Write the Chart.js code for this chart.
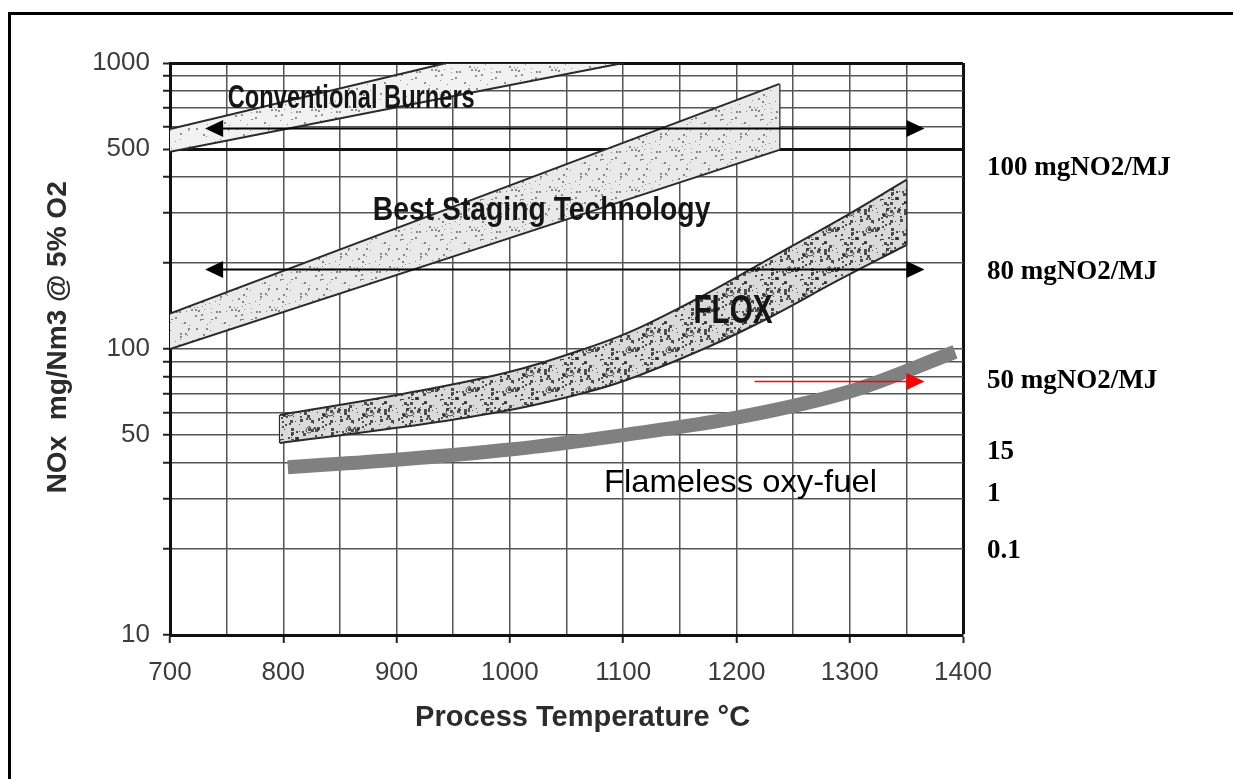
<!DOCTYPE html>
<html>
<head>
<meta charset="utf-8">
<title>NOx vs process temperature</title>
<script src="https://cdn.jsdelivr.net/npm/chart.js@4.4.0/dist/chart.umd.min.js"></script>
<style>
    html, body { margin: 0; padding: 0; background: #fff; }
    #wrap { width: 1233px; height: 779px; overflow: hidden; }
</style>
</head>
<body>
<div id="wrap"><canvas id="noxChart" width="1233" height="779"></canvas></div>
<script>
// Axis ticks
const xGridTemps = [700, 750, 800, 850, 900, 950, 1000, 1050, 1100, 1150, 1200, 1250, 1300, 1350, 1400];
const xLabelTemps = [700, 800, 900, 1000, 1100, 1200, 1300, 1400];
const yGridValues = [10, 20, 30, 40, 50, 60, 70, 80, 90, 100, 200, 300, 400, 500, 600, 700, 800, 900, 1000];
const yLabelValues = [10, 50, 100, 500, 1000];

// Conventional burners band (edges)
const convTemps = [700, 944, 1100];
const convLow = [489, 757, 1000];
const convHigh = [588, 1000, 1000];

// Best staging technology band
const stagingTemps = [700, 1238];
const stagingLow = [100, 497];
const stagingHigh = [133, 845];

// FLOX band
const floxTemps = [797, 900, 1000, 1075, 1115, 1175, 1230, 1290, 1350];
const floxLow = [46.9, 53.0, 61.2, 71.9, 81.1, 101.6, 129.4, 174, 231];
const floxHigh = [58.8, 69.0, 83.2, 103, 119, 157, 208, 282, 390];

// Flameless oxy-fuel curve
const oxyTemps = [804, 900, 1000, 1100, 1200, 1300, 1393];
const oxyValues = [38.6, 41, 44.5, 50, 57.5, 71, 97.7];

// Arrows
const blackArrowLevels = [594, 190];
const blackArrowTemps = [731, 1366];
const redArrowLevel = 77.3;
const redArrowTemps = [1216, 1366];

// Text in the plot
const bandLabels = ['Conventional Burners', 'Best Staging Technology', 'FLOX', 'Flameless oxy-fuel'];
const bandLabelStart = [751, 879, 1162, 1083];
const bandLabelEnd = [969, 1177, 1232, 1324];
const bandLabelLevel = [748, 304, 135, 34];

// Text to the right of the plot
const sideLabels = ['100 mgNO2/MJ', '80 mgNO2/MJ', '50 mgNO2/MJ', '15', '1', '0.1'];
const sideLevels = [430, 186, 77, 43.6, 31.1, 19.7];

Chart.defaults.font.family = '"Liberation Sans", Arial, sans-serif';

function pts(xs, ys) {
    return xs.map((x, i) => ({ x: x, y: ys[i] }));
}

// speckled fill like the scanned bands
function speckle(base, count, dark, big) {
    const c = document.createElement('canvas');
    c.width = c.height = 40;
    const g = c.getContext('2d');
    g.fillStyle = base;
    g.fillRect(0, 0, 40, 40);
    for (let i = 0; i < count; i++) {
        const x = (i * 23 + (i * i) % 17) % 40;
        const y = (i * 41 + (i * i * i) % 29) % 40;
        g.fillStyle = dark;
        const s = big ? 1 + (i % 3) : 1 + (i % 2);
        g.fillRect(x, y, s, s);
    }
    if (big) {
        g.strokeStyle = dark;
        g.lineWidth = 1;
        g.beginPath(); g.arc(10, 12, 4, 0, Math.PI * 1.6); g.stroke();
        g.beginPath(); g.arc(29, 30, 3, 0.5, Math.PI * 1.8); g.stroke();
    }
    return g.createPattern(c, 'repeat');
}

const convFill = speckle('#f1f1f1', 30, 'rgba(80,80,80,0.6)', false);
const stagingFill = speckle('#e9e9e9', 45, 'rgba(70,70,70,0.6)', false);
const floxFill = speckle('#dadada', 80, 'rgba(45,45,45,0.8)', true);

const edge = { borderColor: '#2a2a2a', borderWidth: 2, pointRadius: 0, showLine: true, fill: false, order: 3 };

const datasets = [
    {
        label: 'Flameless oxy-fuel', data: pts(oxyTemps, oxyValues),
        borderColor: '#808080', borderWidth: 14, borderCapStyle: 'butt',
        tension: 0.4, cubicInterpolationMode: 'monotone',
        pointRadius: 0, showLine: true, fill: false, order: 0
    },
    Object.assign({ label: 'conv low', data: pts(convTemps, convLow) }, edge),
    Object.assign({}, edge, { label: 'conv high', data: pts(convTemps, convHigh), fill: '-1', backgroundColor: convFill }),
    Object.assign({ label: 'staging low', data: pts(stagingTemps, stagingLow) }, edge),
    Object.assign({}, edge, { label: 'staging high', data: pts(stagingTemps, stagingHigh), fill: '-1', backgroundColor: stagingFill }),
    Object.assign({}, edge, { label: 'staging end', data: [
        { x: stagingTemps[stagingTemps.length - 1], y: stagingLow[stagingLow.length - 1] },
        { x: stagingTemps[stagingTemps.length - 1], y: stagingHigh[stagingHigh.length - 1] }] }),
    Object.assign({}, edge, { label: 'flox low', data: pts(floxTemps, floxLow), tension: 0.4 }),
    Object.assign({}, edge, { label: 'flox high', data: pts(floxTemps, floxHigh), tension: 0.4, fill: '-1', backgroundColor: floxFill }),
    Object.assign({}, edge, { label: 'flox start', data: [
        { x: floxTemps[0], y: floxLow[0] }, { x: floxTemps[0], y: floxHigh[0] }] }),
    Object.assign({}, edge, { label: 'flox end', data: [
        { x: floxTemps[floxTemps.length - 1], y: floxLow[floxLow.length - 1] },
        { x: floxTemps[floxTemps.length - 1], y: floxHigh[floxHigh.length - 1] }] })
];

function arrowHead(ctx, x, y, dir, color) {
    ctx.fillStyle = color;
    ctx.beginPath();
    ctx.moveTo(x, y);
    ctx.lineTo(x - dir * 18, y - 8.5);
    ctx.lineTo(x - dir * 18, y + 8.5);
    ctx.closePath();
    ctx.fill();
}

function fitText(ctx, text, x1, x2, y) {
    const w = ctx.measureText(text).width;
    ctx.save();
    ctx.translate(x1, y);
    ctx.scale((x2 - x1) / w, 1);
    ctx.fillText(text, 0, 0);
    ctx.restore();
}

const annotations = {
    id: 'annotations',
    beforeDraw(chart) {
        const ctx = chart.ctx;
        ctx.save();
        ctx.fillStyle = '#fff';
        ctx.fillRect(0, 0, chart.width, chart.height);
        ctx.strokeStyle = '#000';
        ctx.lineWidth = 3;
        ctx.strokeRect(9.5, 13.5, chart.width + 20, chart.height + 20);
        ctx.restore();
    },
    afterDatasetsDraw(chart) {
        const ctx = chart.ctx;
        const xs = chart.scales.x, ys = chart.scales.y;
        ctx.save();

        // black double arrows
        const ax1 = xs.getPixelForValue(blackArrowTemps[0]);
        const ax2 = xs.getPixelForValue(blackArrowTemps[1]);
        blackArrowLevels.forEach(v => {
            const y = Math.round(ys.getPixelForValue(v)) + 0.5;
            ctx.strokeStyle = '#000';
            ctx.lineWidth = 2;
            ctx.beginPath();
            ctx.moveTo(ax1 + 10, y);
            ctx.lineTo(ax2 - 10, y);
            ctx.stroke();
            arrowHead(ctx, ax1, y, -1, '#000');
            arrowHead(ctx, ax2, y, 1, '#000');
        });

        // red arrow
        const ry = Math.round(ys.getPixelForValue(redArrowLevel)) + 0.5;
        const rx1 = xs.getPixelForValue(redArrowTemps[0]);
        const rx2 = xs.getPixelForValue(redArrowTemps[1]);
        ctx.strokeStyle = '#ff0000';
        ctx.lineWidth = 1.5;
        ctx.beginPath();
        ctx.moveTo(rx1, ry);
        ctx.lineTo(rx2 - 10, ry);
        ctx.stroke();
        arrowHead(ctx, rx2, ry, 1, '#ff0000');

        // band labels
        ctx.textBaseline = 'middle';
        ctx.textAlign = 'left';
        const fonts = ['bold 34px "Liberation Sans", Arial', 'bold 34px "Liberation Sans", Arial',
                       'bold 40px "Liberation Sans", Arial', '32px "Liberation Sans", Arial'];
        bandLabels.forEach((t, i) => {
            ctx.font = fonts[i];
            ctx.fillStyle = i === 3 ? '#000' : '#151515';
            fitText(ctx, t, xs.getPixelForValue(bandLabelStart[i]), xs.getPixelForValue(bandLabelEnd[i]),
                    ys.getPixelForValue(bandLabelLevel[i]));
        });

        // right-hand labels
        ctx.fillStyle = '#000';
        ctx.font = 'bold 27px "Liberation Serif", "Times New Roman", serif';
        sideLabels.forEach((t, i) => {
            ctx.fillText(t, chart.chartArea.right + 24, ys.getPixelForValue(sideLevels[i]));
        });
        ctx.restore();
    }
};

new Chart(document.getElementById('noxChart'), {
    type: 'scatter',
    data: { datasets: datasets },
    plugins: [annotations],
    options: {
        responsive: false,
        animation: false,
        layout: { padding: { left: 0, top: 63, right: 270, bottom: 0 } },
        plugins: { legend: { display: false }, tooltip: { enabled: false } },
        scales: {
            x: {
                type: 'linear', min: 700, max: 1400,
                afterBuildTicks: s => { s.ticks = xGridTemps.map(v => ({ value: v })); },
                afterFit: s => { s.height = 144; },
                ticks: {
                    autoSkip: false, maxRotation: 0, padding: 14,
                    color: '#3c3c3c', font: { size: 26 },
                    callback: v => xLabelTemps.includes(v) ? String(v) : ''
                },
                grid: {
                    color: ctx => ctx.tick && ctx.tick.value === 1400 ? '#111' : '#555',
                    lineWidth: ctx => ctx.tick && ctx.tick.value === 1400 ? 3 : 1.5,
                    tickLength: 8, tickWidth: 2,
                    tickColor: ctx => ctx.tick && xLabelTemps.includes(ctx.tick.value) ? '#222' : 'rgba(0,0,0,0)'
                },
                border: { width: 3, color: '#111' },
                title: {
                    display: true, text: '    Process Temperature °C', color: '#2c2c2c',
                    font: { size: 29, weight: 'bold' }, padding: { top: 0, bottom: 44 }
                }
            },
            y: {
                type: 'logarithmic', min: 10, max: 1000,
                afterBuildTicks: s => { s.ticks = yGridValues.map(v => ({ value: v })); },
                afterFit: s => { s.width = 170; },
                ticks: {
                    autoSkip: false, padding: 13,
                    color: '#3c3c3c', font: { size: 26 },
                    callback: v => yLabelValues.includes(v) ? String(v) : ''
                },
                grid: {
                    color: ctx => ctx.tick && (ctx.tick.value === 500 || ctx.tick.value === 1000) ? '#111' : '#555',
                    lineWidth: ctx => ctx.tick && (ctx.tick.value === 500 || ctx.tick.value === 1000) ? 3 : 1.5,
                    tickLength: 7, tickWidth: 2, tickColor: '#222'
                },
                border: { width: 3, color: '#111' },
                title: {
                    display: true, text: '   NOx  mg/Nm3 @ 5% O2', color: '#2c2c2c',
                    font: { size: 28, weight: 'bold' }, padding: { top: 41, bottom: 0 }
                }
            }
        }
    }
});
</script>
</body>
</html>
